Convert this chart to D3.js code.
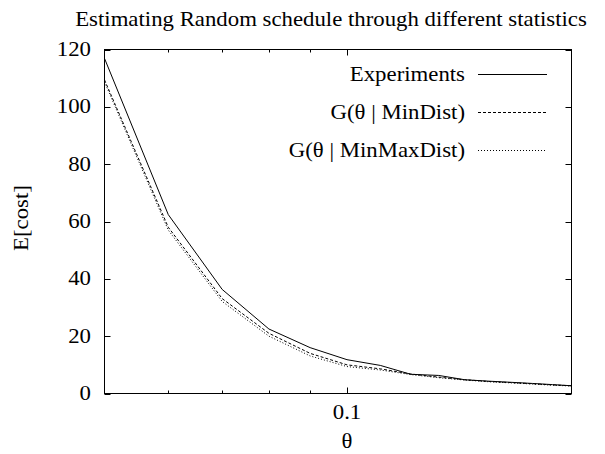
<!DOCTYPE html>
<html>
<head>
<meta charset="utf-8">
<script src="https://cdn.jsdelivr.net/npm/d3@7"></script>
<style>
  html, body { margin: 0; padding: 0; background: #fff; }
  svg { display: block; }
  text { font-family: "Liberation Serif", serif; fill: #000; }
</style>
</head>
<body>
<svg id="chart" width="605" height="454"></svg>
<script>
// Sampled scheduling parameter
const thetas = [0.05, 0.06, 0.07, 0.08, 0.09, 0.10, 0.11, 0.12, 0.13, 0.14, 0.15, 0.16, 0.17, 0.18, 0.19];

// Expected cost: measured and estimated by two statistics
const experiments = [116.9, 62.4, 36.3, 22.5, 16.0, 11.8, 9.8, 6.7, 6.3, 4.8, 4.3, 3.9, 3.5, 3.1, 2.7];
const minDist     = [109.4, 58.0, 33.1, 21.0, 14.0, 10.0, 8.6, 6.8, 5.7, 4.8, 4.2, 3.8, 3.4, 3.0, 2.7];
const minMaxDist  = [108.7, 57.0, 32.1, 20.0, 13.1, 9.4, 8.2, 6.6, 5.5, 4.7, 4.1, 3.7, 3.3, 2.9, 2.6];

// Axis ticks
const yTicks = [0, 20, 40, 60, 80, 100, 120];
const xMajorTicks = [0.1];
const xMinorTicks = [0.06, 0.07, 0.08, 0.09];

const seriesNames = ["Experiments", "G(θ | MinDist)", "G(θ | MinMaxDist)"];
const seriesDash = [null, "3,2", "1,2"];
const seriesValues = [experiments, minDist, minMaxDist];

const svg = d3.select("#chart");
const plotL = 104.5, plotR = 571.5, plotT = 49.5, plotB = 393.5;
const fs = 20;      // font size
const sx = 1.14;    // wide schoolbook-like letterforms

const x = d3.scaleLog().domain([0.05, 0.19]).range([plotL, plotR]);
const y = d3.scaleLinear().domain([0, 120]).range([plotB, plotT]);

// Place a horizontally widened label at (px, py), optionally rotated
function label(px, py, str, anchor, rot) {
  return svg.append("text")
    .attr("transform", `translate(${px},${py})` + (rot ? ` rotate(${rot})` : "") + ` scale(${sx},1)`)
    .attr("text-anchor", anchor)
    .style("font-size", fs + "px")
    .text(str);
}

// Title
label(331, 26, "Estimating Random schedule through different statistics", "middle");

// Ticks (mirrored on all four sides)
const tickG = svg.append("g").attr("stroke", "#000").attr("stroke-width", 1);
yTicks.forEach(v => {
  const yy = Math.round(y(v)) + 0.5;
  tickG.append("line").attr("x1", plotL).attr("x2", plotL + 6).attr("y1", yy).attr("y2", yy);
  tickG.append("line").attr("x1", plotR).attr("x2", plotR - 6).attr("y1", yy).attr("y2", yy);
});
xMajorTicks.forEach(v => {
  const xx = Math.round(x(v)) + 0.5;
  tickG.append("line").attr("x1", xx).attr("x2", xx).attr("y1", plotB).attr("y2", plotB - 6);
  tickG.append("line").attr("x1", xx).attr("x2", xx).attr("y1", plotT).attr("y2", plotT + 6);
});
xMinorTicks.forEach(v => {
  const xx = Math.round(x(v)) + 0.5;
  tickG.append("line").attr("x1", xx).attr("x2", xx).attr("y1", plotB).attr("y2", plotB - 3);
  tickG.append("line").attr("x1", xx).attr("x2", xx).attr("y1", plotT).attr("y2", plotT + 3);
});

// Tick labels
yTicks.forEach(v => label(91, y(v) + 6.5, String(v), "end"));
xMajorTicks.forEach(v => label(x(v), 419, d3.format(".1f")(v), "middle"));

// Axis titles
label(x(0.1), 448, "θ", "middle");
label(28, 218, "E[cost]", "middle", -90);

// Series lines
const line = d3.line().x((d, i) => x(thetas[i])).y(d => y(d));
seriesValues.forEach((vals, k) => {
  svg.append("path")
    .datum(vals)
    .attr("fill", "none")
    .attr("stroke", "#000")
    .attr("stroke-width", 1)
    .attr("stroke-dasharray", seriesDash[k])
    .attr("d", line);
});

// Legend
const legendY = [74, 112, 150];
seriesNames.forEach((name, k) => {
  label(465, legendY[k] + 6.5, name, "end");
  svg.append("line")
    .attr("x1", 478).attr("x2", 547)
    .attr("y1", legendY[k] + 0.5).attr("y2", legendY[k] + 0.5)
    .attr("stroke", "#000").attr("stroke-width", 1)
    .attr("stroke-dasharray", seriesDash[k]);
});

// Plot frame
svg.append("rect")
  .attr("x", plotL).attr("y", plotT)
  .attr("width", plotR - plotL).attr("height", plotB - plotT)
  .attr("fill", "none").attr("stroke", "#000").attr("stroke-width", 1);
</script>
</body>
</html>
